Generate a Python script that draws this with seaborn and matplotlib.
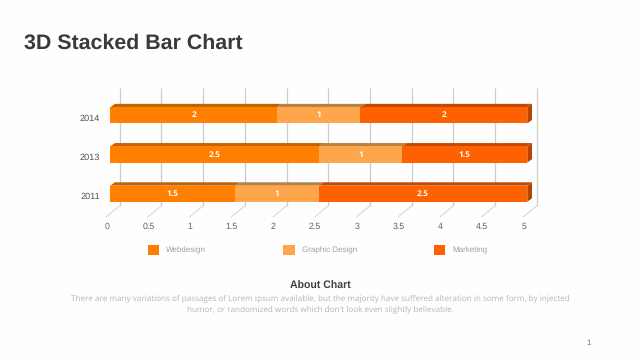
import numpy as np
import pandas as pd
import matplotlib
matplotlib.use("Agg")
import matplotlib.pyplot as plt
from matplotlib.patches import Polygon
from matplotlib.transforms import ScaledTranslation
import seaborn as sns

years = ["2014", "2013", "2011"]
webdesign = [2, 2.5, 1.5]
graphic = [1, 1, 1]
marketing = [2, 1.5, 2.5]
xticks = [0, 0.5, 1, 1.5, 2, 2.5, 3, 3.5, 4, 4.5, 5]
xticklabels = ["0", "0.5", "1", "1.5", "2", "2.5", "3", "3.5", "4", "4.5", "5"]
series_names = ["Webdesign", "Graphic Design", "Marketing"]
front_colors = ["#FF8000", "#FFA64D", "#FF6000"]
top_colors = ["#C46400", "#B9803F", "#C44A00"]
side_color = "#B84400"

W, H = 640, 360
sns.set_theme(style="white")
plt.rcParams["font.family"] = ["Liberation Sans", "DejaVu Sans"]
plt.rcParams["text.hinting"] = "no_hinting"
plt.rcParams["text.hinting_factor"] = 8
fig = plt.figure(figsize=(W / 100, H / 100), dpi=100, facecolor="#FEFEFE")
# front plane of the chart, in pixels
L, R, T, B = 110.2, 527.3, 95.7, 213.3
ax = fig.add_axes([L / W, 1 - B / H, (R - L) / W, (B - T) / H])
ax.set_facecolor("none")

df = pd.DataFrame({"year": years, "w": webdesign, "g": graphic, "m": marketing})
cols = ["w", "g", "m"]
lefts = df[cols].cumsum(axis=1).shift(1, axis=1).fillna(0)
bar_h = 0.41
for c, name, color in zip(cols, series_names, front_colors):
    sns.barplot(data=df, y="year", x=c, order=years, color=color, saturation=1,
                width=bar_h, left=lefts[c].to_numpy(), errorbar=None, ax=ax,
                label=name, linewidth=0, zorder=4, legend=False)

ax.set_xlim(0, 5)
ax.set_ylim(2.5, -0.5)
px_x = 5 / (R - L)
px_y = 3 / (B - T)

# back wall gridlines and floor ticks
wall_dx, wall_dy = 9.5 * px_x, 7.6 * px_y
floor_dx, floor_dy = -4.0 * px_x, 3.6 * px_y
for v in xticks:
    ax.plot([v + wall_dx, v + wall_dx], [-0.5 - wall_dy, 2.5 - wall_dy],
            color="#CCCCCC", lw=0.9, clip_on=False, zorder=1, solid_capstyle="butt")
    ax.plot([v + wall_dx, v + floor_dx], [2.5 - wall_dy, 2.5 + floor_dy],
            color="#D8D8D8", lw=0.8, clip_on=False, zorder=1)

# depth faces of the bars
d_x, d_y = 4.7 * px_x, 3.4 * px_y
for i, yr in enumerate(years):
    top = i - bar_h / 2
    bot = i + bar_h / 2
    for c, tc in zip(cols, top_colors):
        l = lefts[c].iloc[i]
        r = l + df[c].iloc[i]
        ax.add_patch(Polygon([(l, top), (r, top), (r + d_x, top - d_y), (l + d_x, top - d_y)],
                             closed=True, fc=tc, ec="none", clip_on=False, zorder=3))
        ax.text((l + r) / 2, i, f"{df[c].iloc[i]:g}", ha="center", va="center", color="white",
                fontsize=6.0, fontweight="bold", family=["Open Sans", "DejaVu Sans"], zorder=5)
    end = df[cols].iloc[i].sum()
    ax.add_patch(Polygon([(end, top), (end + d_x, top - d_y), (end + d_x, bot - d_y), (end, bot)],
                         closed=True, fc=side_color, ec="none", clip_on=False, zorder=3))

sns.despine(ax=ax, left=True, bottom=True)
ax.set_xlabel("")
ax.set_ylabel("")
ax.set_xticks(xticks, xticklabels)
ax.tick_params(axis="x", length=0, pad=6.3, labelsize=6.3, labelcolor="#606060")
ax.tick_params(axis="y", length=0, pad=7.2, labelsize=6.6, labelcolor="#505050")
shift_x = ScaledTranslation(-3.6 / 100, 0, fig.dpi_scale_trans)
for t in ax.get_xticklabels():
    t.set_transform(t.get_transform() + shift_x)
shift_y = ScaledTranslation(0, -2.4 / 100, fig.dpi_scale_trans)
for t in ax.get_yticklabels():
    t.set_transform(t.get_transform() + shift_y)

handles = ax.containers[:3]
fs = 5.8
px = fs * 100 / 72
ax.legend(handles, series_names, ncol=3, frameon=False, loc="center",
          bbox_to_anchor=(317.5 / W, 1 - 250 / H), bbox_transform=fig.transFigure,
          fontsize=fs, labelcolor="#A0A0A0", handlelength=11.5 / px, handleheight=11.5 / px,
          handletextpad=7 / px, columnspacing=77 / px, borderpad=0, borderaxespad=0)

fig.text(24 / W, 1 - 43 / H, "3D Stacked Bar Chart", fontsize=15.4, fontweight="bold",
         color="#3A3A3A", va="center", ha="left")
fig.text(320 / W, 1 - 286 / H, "About Chart", fontsize=7.6, fontweight="bold",
         color="#404040", va="center", ha="center")
fig.text(320 / W, 1 - 298.5 / H,
         "There are many variations of passages of Lorem Ipsum available, but the majority have suffered alteration in some form, by injected",
         fontsize=5.85, color="#B5B5B5", va="center", ha="center", family=["Open Sans", "DejaVu Sans"])
fig.text(320 / W, 1 - 309.5 / H,
         "humor, or randomized words which don't look even slightly believable.",
         fontsize=5.85, color="#B5B5B5", va="center", ha="center", family=["Open Sans", "DejaVu Sans"])
fig.text(589 / W, 1 - 343 / H, "1", fontsize=5.5, color="#707070", va="center", ha="center")

fig.savefig("out.png", dpi=100, facecolor=fig.get_facecolor())
